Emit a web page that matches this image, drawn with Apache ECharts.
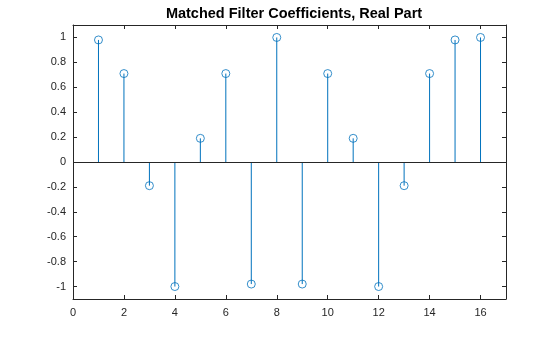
<!DOCTYPE html>
<html>
<head>
<meta charset="utf-8">
<script src="https://cdn.jsdelivr.net/npm/echarts@6/dist/echarts.min.js"></script>
<style>
  html, body { margin: 0; padding: 0; background: #fff; }
  #chart { width: 560px; height: 337px; }
</style>
</head>
<body>
<div id="chart"></div>
<script>
  // sample index and real part of each coefficient
  const indices = [1, 2, 3, 4, 5, 6, 7, 8, 9, 10, 11, 12, 13, 14, 15, 16];
  const realPart = [0.98, 0.71, -0.19, -1, 0.19, 0.71, -0.98, 1, -0.98, 0.71, 0.19, -1, -0.19, 0.71, 0.98, 1];
  const xTicks = [0, 2, 4, 6, 8, 10, 12, 14, 16];
  const yTicks = [-1, -0.8, -0.6, -0.4, -0.2, 0, 0.2, 0.4, 0.6, 0.8, 1];

  const axisColor = '#262626';
  const stemColor = '#0072BD';
  const points = indices.map((x, i) => [x, realPart[i]]);

  const chart = echarts.init(document.getElementById('chart'));

  const baseX = {
    type: 'value',
    min: 0,
    max: 17,
    axisLine: { show: true, onZero: false, lineStyle: { color: axisColor, width: 1 } },
    axisTick: { show: true, inside: true, length: 4, customValues: xTicks, lineStyle: { color: axisColor } },
    axisLabel: { show: true, customValues: xTicks, color: axisColor, fontSize: 11, fontFamily: 'Liberation Sans, Arial', margin: 8 },
    splitLine: { show: false }
  };
  const baseY = {
    type: 'value',
    min: -1.1,
    max: 1.1,
    axisLine: { show: true, onZero: false, lineStyle: { color: axisColor, width: 1 } },
    axisTick: { show: true, inside: true, length: 4, customValues: yTicks, lineStyle: { color: axisColor } },
    axisLabel: { show: true, customValues: yTicks, color: axisColor, fontSize: 11, fontFamily: 'Liberation Sans, Arial', margin: 7 },
    splitLine: { show: false }
  };

  const option = {
    animation: false,
    title: {
      text: 'Matched Filter Coefficients, Real Part',
      left: 289,
      top: 1,
      textAlign: 'center',
      textStyle: { fontSize: 14.5, fontWeight: 'bold', color: '#000', fontFamily: 'Liberation Sans, Arial' }
    },
    grid: { left: 73, right: 54, top: 25, bottom: 38 },
    xAxis: [
      { ...baseX, position: 'bottom' },
      { ...baseX, position: 'top', axisLabel: { show: false } }
    ],
    yAxis: [
      { ...baseY, position: 'left' },
      { ...baseY, position: 'right', axisLabel: { show: false } }
    ],
    series: [
      {
        // stems from zero to each value
        type: 'custom',
        data: points,
        silent: true,
        renderItem: (params, api) => {
          const top = api.coord([api.value(0), api.value(1)]);
          const bottom = api.coord([api.value(0), 0]);
          return {
            type: 'line',
            shape: { x1: top[0], y1: top[1], x2: bottom[0], y2: bottom[1] },
            style: { stroke: stemColor, lineWidth: 1 }
          };
        },
        markLine: {
          silent: true,
          symbol: 'none',
          label: { show: false },
          lineStyle: { color: axisColor, width: 1, type: 'solid' },
          data: [{ yAxis: 0 }]
        }
      },
      {
        type: 'scatter',
        data: points,
        symbol: 'circle',
        symbolSize: 8,
        itemStyle: { color: 'rgba(0,0,0,0)', borderColor: stemColor, borderWidth: 1 },
        z: 3
      }
    ]
  };

  chart.setOption(option);
</script>
</body>
</html>
